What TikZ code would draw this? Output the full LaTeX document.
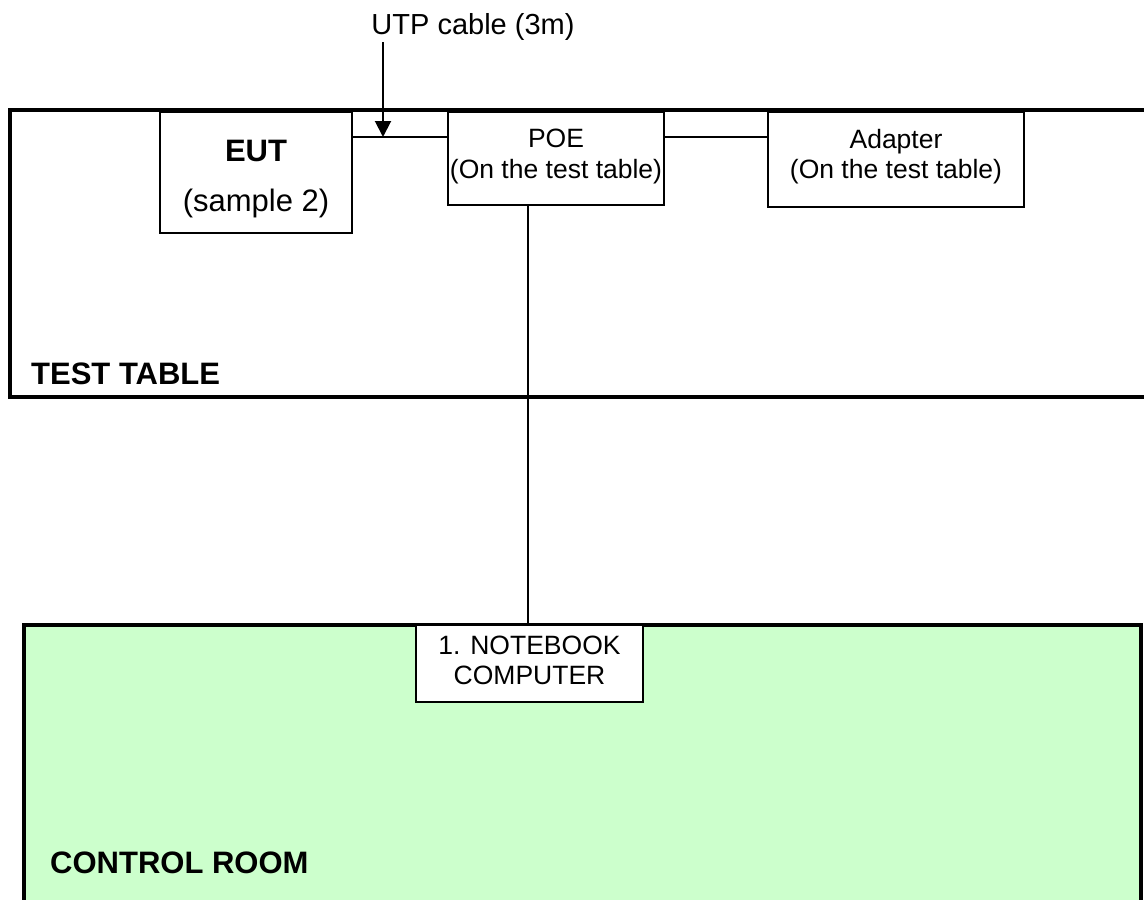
\documentclass[tikz,border=0pt]{standalone}
\usepackage{fontspec}
\setmainfont{Liberation Sans}
\usetikzlibrary{arrows.meta}
\definecolor{roomgreen}{HTML}{CCFFCC}
\tikzset{
  boxnode/.style={draw=black, line width=2pt, fill=white, inner sep=0pt},
  wire/.style={draw=black, line width=2pt},
  areaedge/.style={draw=black, line width=4pt},
  bigtxt/.style={inner sep=0pt, anchor=base west, font=\fontsize{31}{37}\selectfont\bfseries},
  eutbold/.style={inner sep=0pt, anchor=base, font=\fontsize{31}{37}\selectfont\bfseries},
  eutsub/.style={inner sep=0pt, anchor=base, font=\fontsize{31}{37}\selectfont},
  midtxt/.style={inner sep=0pt, anchor=base, font=\fontsize{26.5}{32}\selectfont},
  utptxt/.style={inner sep=0pt, anchor=base, font=\fontsize{29}{34}\selectfont},
}
\begin{document}
\begin{tikzpicture}[x=1pt,y=-1pt]
\useasboundingbox (0,0) rectangle (1144,900);
% areas
\draw[areaedge, fill=white] (10,110) rectangle (1170,397);
\draw[areaedge, fill=roomgreen] (24,625) rectangle (1141,930);
% boxes
\node[boxnode, minimum width=192pt, minimum height=121pt] (eut) at (256,172.5) {};
\node[boxnode, minimum width=216pt, minimum height=93pt] (poe) at (556,158.5) {};
\node[boxnode, minimum width=256pt, minimum height=95pt] (adp) at (896,159.5) {};
\node[boxnode, minimum width=227pt, minimum height=77pt] (nb) at (529.5,663.5) {};
% texts
\node[eutbold] (eutA) at (256,161) {EUT};
\node[eutsub] (eutB) at (256,211) {(sample 2)};
\node[midtxt] (poeA) at (556,147) {POE};
\node[midtxt] (poeB) at (556,178) {(On the test table)};
\node[midtxt] (adpA) at (896,148) {Adapter};
\node[midtxt] (adpB) at (896,178) {(On the test table)};
\node[midtxt] (nbA) at (529.5,654) {1. NOTEBOOK};
\node[midtxt] (nbB) at (529.5,684) {COMPUTER};
\node[bigtxt] (tt) at (31,384) {TEST TABLE};
\node[bigtxt] (cr) at (50,873) {CONTROL ROOM};
\node[utptxt] (utp) at (473,34) {UTP cable (3m)};
% connectors
\coordinate (cab) at (0,137);
\coordinate (vx) at (528,0);
\coordinate (arrS) at (383,42);
\coordinate (arrT) at (383,137);
\draw[wire] (eut.east |- cab) -- (poe.west |- cab);
\draw[wire] (poe.east |- cab) -- (adp.west |- cab);
\draw[wire] (poe.south -| vx) -- (nb.north -| vx);
\draw[black, line width=2pt, -{Triangle[width=16pt,length=16pt]}] (arrS) -- (arrT);
\end{tikzpicture}
\end{document}
